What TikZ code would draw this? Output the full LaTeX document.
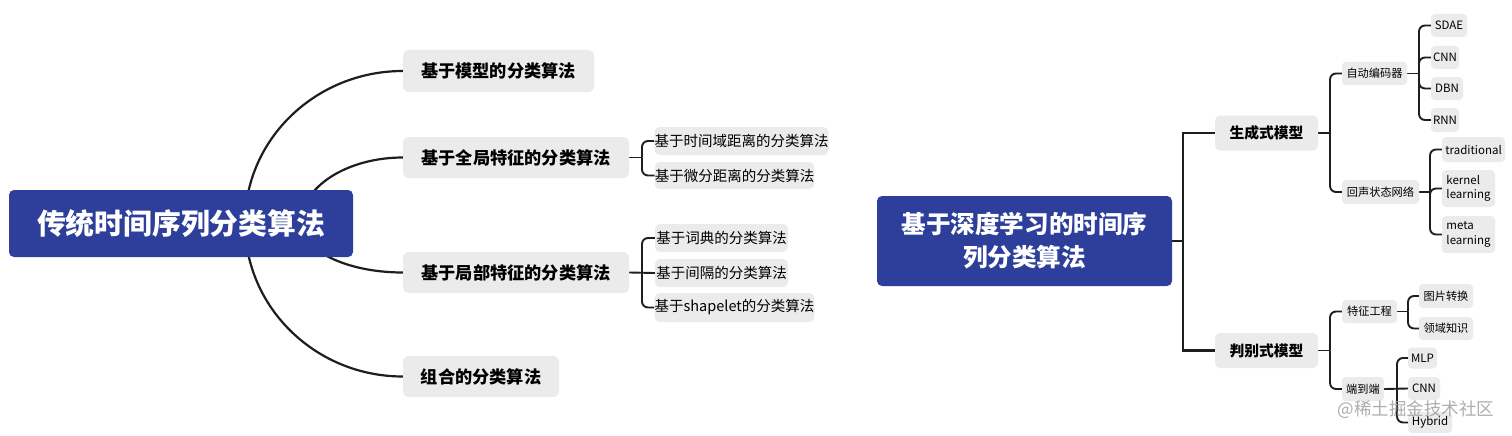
\documentclass[tikz,border=0pt]{standalone}
\usepackage{fontspec}
\setmainfont{Noto Sans CJK SC}
\usetikzlibrary{backgrounds}
\definecolor{rootblue}{HTML}{2D3F9B}
\definecolor{boxgray}{HTML}{EBEBEB}
\definecolor{linec}{HTML}{1E1E1E}
\newcommand{\fs}[1]{\fontsize{#1}{#1}\selectfont}
\tikzset{
  base/.style={rectangle, inner sep=0pt, align=center},
  rootbox/.style={base, fill=rootblue, text=white, rounded corners=5pt, font=\fs{28.8}\bfseries},
  rootboxb/.style={base, fill=rootblue, text=white, rounded corners=5pt, font=\fontsize{24.6}{33}\selectfont\bfseries},
  lone/.style={base, fill=boxgray, rounded corners=6pt, font=\fs{17.2}\bfseries},
  ltwo/.style={base, fill=boxgray, rounded corners=5pt, font=\fs{14.5}},
  rone/.style={base, fill=boxgray, rounded corners=5pt, font=\fs{14.8}\bfseries},
  rtwo/.style={base, fill=boxgray, rounded corners=4pt, font=\fs{11.2}},
  leaf/.style={base, fill=boxgray, rounded corners=4pt, font=\fs{11.5}},
  leafml/.style={base, fill=boxgray, rounded corners=4pt, font=\fontsize{11.5}{14.5}\selectfont, align=left},
  curve/.style={draw=linec, line width=2.2pt},
  brk/.style={draw=linec, line width=1.9pt, rounded corners=6pt},
  stem/.style={draw=linec, line width=1.9pt},
  trunk/.style={draw=linec, line width=2.3pt},
}
\begin{document}
\begin{tikzpicture}[x=1pt, y=-1pt]
\useasboundingbox (0,0) rectangle (1512,436);
% ---------- left tree ----------
\node[rootbox, minimum width=344pt, minimum height=67pt] (root) at (181,223.5) {传统时间序列分类算法};
\node[lone, minimum width=191pt, minimum height=42pt] (m1) at (498.5,71) {基于模型的分类算法};
\node[lone, minimum width=226pt, minimum height=41pt] (m2) at (516,157.5) {基于全局特征的分类算法};
\node[lone, minimum width=226pt, minimum height=41pt] (m3) at (516,272.5) {基于局部特征的分类算法};
\node[lone, minimum width=156pt, minimum height=41pt] (m4) at (481,376.5) {组合的分类算法};
\node[ltwo, minimum width=173pt, minimum height=28pt] (g1) at (741.5,141) {基于时间域距离的分类算法};
\node[ltwo, minimum width=159pt, minimum height=27pt] (g2) at (734.5,175.5) {基于微分距离的分类算法};
\node[ltwo, minimum width=133pt, minimum height=28pt] (p1) at (721.5,238) {基于词典的分类算法};
\node[ltwo, minimum width=133pt, minimum height=28pt] (p2) at (721.5,273) {基于间隔的分类算法};
\node[ltwo, minimum width=159pt, minimum height=29pt] (p3) at (734.5,307.5) {基于shapelet的分类算法};
\coordinate (ra) at (245,223);
\coordinate (rb) at (301,223);
\coordinate (gj) at (642,157.5);
\coordinate (pj) at (642,272.5);
% ---------- right tree ----------
\node[rootboxb, minimum width=295pt, minimum height=90pt] (root2) at (1024.5,241) {基于深度学习的时间序\\列分类算法};
\node[rone, minimum width=103pt, minimum height=35pt] (gen) at (1266.5,133) {生成式模型};
\node[rone, minimum width=103pt, minimum height=35pt] (disc) at (1266.5,350.5) {判别式模型};
\node[rtwo, minimum width=65pt, minimum height=23pt] (ae) at (1374.5,73.5) {自动编码器};
\node[rtwo, minimum width=77pt, minimum height=24pt] (esn) at (1380.5,192) {回声状态网络};
\node[leaf, minimum width=36pt, minimum height=23pt] (sdae) at (1449,25.5) {SDAE};
\node[leaf, minimum width=28pt, minimum height=23pt] (cnna) at (1445,57.5) {CNN};
\node[leaf, minimum width=32pt, minimum height=23pt] (dbn) at (1447,88.5) {DBN};
\node[leaf, minimum width=28pt, minimum height=24pt] (rnn) at (1445,120) {RNN};
\node[leaf, minimum width=63pt, minimum height=25pt] (trad) at (1473.5,149.5) {traditional};
\node[leafml, minimum width=53pt, minimum height=37pt] (kern) at (1468.5,188.5) {kernel\\learning};
\node[leafml, minimum width=53pt, minimum height=37pt] (meta) at (1468.5,234.5) {meta\\learning};
\node[rtwo, minimum width=55pt, minimum height=23pt] (fe) at (1369.5,311.5) {特征工程};
\node[rtwo, minimum width=42pt, minimum height=24pt] (e2e) at (1363,389) {端到端};
\node[rtwo, minimum width=54pt, minimum height=24pt] (img) at (1446,296) {图片转换};
\node[rtwo, minimum width=54pt, minimum height=23pt] (dom) at (1446,328.5) {领域知识};
\node[leaf, minimum width=29pt, minimum height=21pt] (mlp) at (1422.5,358) {MLP};
\node[leaf, minimum width=32pt, minimum height=23pt] (cnnb) at (1424,388.5) {CNN};
\node[leaf, minimum width=44pt, minimum height=21pt] (hyb) at (1430,422.5) {Hybrid};
\coordinate (rj) at (1183,241);
\coordinate (gnj) at (1330,133);
\coordinate (dj) at (1330,350.5);
\coordinate (aj) at (1419,73.5);
\coordinate (ej) at (1430,192);
\coordinate (fj) at (1408,311.5);
\coordinate (tj) at (1397,389);
\node[text=gray!75, opacity=0.85, font=\fs{17.5}, inner sep=0pt] (wm) at (1416,410) {@稀土掘金技术社区};
% ---------- connectors ----------
\begin{scope}[on background layer]
\fill[white] (0,0) rectangle (1512,436);
\draw[curve] (ra) .. controls (245,139) and (316,71) .. (m1.west);
\draw[curve] (rb) .. controls (301,187) and (347,157.5) .. (m2.west);
\draw[curve] (rb) .. controls (301,250) and (346,272.5) .. (m3.west);
\draw[curve] (ra) .. controls (245,308) and (316,376.5) .. (m4.west);
\draw[stem] (m2.east) -- (gj);
\draw[brk] (gj) |- (g1.west);
\draw[brk] (gj) |- (g2.west);
\draw[stem] (m3.east) -- (p2.west);
\draw[brk] (pj) |- (p1.west);
\draw[brk] (pj) |- (p3.west);
% right
\draw[trunk] (root2.east) -- (rj);
\draw[trunk] (rj) |- (gen.west);
\draw[trunk] (rj) |- (disc.west);
\draw[stem] (gen.east) -- (gnj);
\draw[brk] (gnj) |- (ae.west);
\draw[brk] (gnj) |- (esn.west);
\draw[stem] (ae.east) -- (aj);
\draw[brk] (aj) |- (sdae.west);
\draw[brk] (aj) |- (cnna.west);
\draw[brk] (aj) |- (dbn.west);
\draw[brk] (aj) |- (rnn.west);
\draw[stem] (esn.east) -- (ej);
\draw[brk] (ej) |- (trad.west);
\draw[brk] (ej) |- (kern.west);
\draw[brk] (ej) |- (meta.west);
\draw[stem] (disc.east) -- (dj);
\draw[brk] (dj) |- (fe.west);
\draw[brk] (dj) |- (e2e.west);
\draw[stem] (fe.east) -- (fj);
\draw[brk] (fj) |- (img.west);
\draw[brk] (fj) |- (dom.west);
\draw[stem] (e2e.east) -- (cnnb.west);
\draw[brk] (tj) |- (mlp.west);
\draw[brk] (tj) |- (hyb.west);
\end{scope}
\end{tikzpicture}
\end{document}
